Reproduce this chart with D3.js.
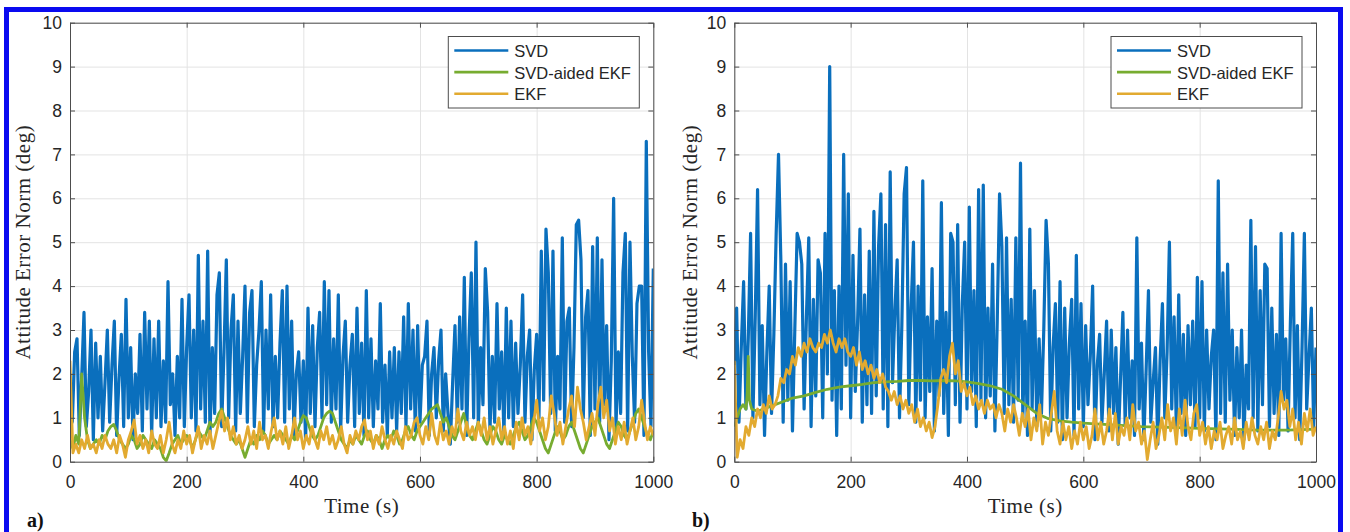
<!DOCTYPE html>
<html><head><meta charset="utf-8">
<script src="https://cdn.jsdelivr.net/npm/d3@7"></script>
<style>body{margin:0;background:#fff;} svg{display:block;}</style>
</head><body><svg id="chart" width="1350" height="532"></svg>
<script>
// ---------- data ----------
const xTicks = [0, 200, 400, 600, 800, 1000];
const yTicks = [0, 1, 2, 3, 4, 5, 6, 7, 8, 9, 10];
const seriesNames = ["SVD", "SVD-aided EKF", "EKF"];
const panelLabels = ["a)", "b)"];

// Panel a, SVD (every 4 s)
const svdA = [
2.0,0.9,2.5,2.8,0.6,1.9,3.4,0.8,1.6,3.0,
0.5,2.7,1.0,2.4,0.7,1.8,3.0,0.9,2.2,3.2,
0.6,1.9,2.9,0.8,3.7,1.0,2.6,0.5,2.0,1.1,
2.9,0.7,3.4,1.2,3.2,0.6,2.8,1.0,3.2,0.8,
2.3,0.9,4.1,1.3,2.0,0.6,2.4,1.0,3.7,0.8,
2.6,3.8,1.0,3.0,0.7,4.7,1.2,3.2,0.9,4.8,
0.6,2.6,1.1,3.8,4.3,0.8,2.5,4.6,1.0,3.0,
3.8,0.7,3.2,1.1,2.4,4.0,0.9,3.4,3.9,0.8,
2.2,3.0,4.1,0.7,3.0,1.2,3.8,0.8,2.4,1.0,
2.7,3.9,0.9,4.0,1.2,3.2,0.6,2.0,2.5,0.9,
2.3,0.5,3.5,1.1,3.1,0.8,2.6,3.4,1.0,4.1,
1.3,3.9,0.9,2.8,1.2,3.8,0.7,2.4,3.2,0.9,
2.2,2.9,0.8,3.5,1.1,2.7,0.6,3.9,1.0,2.8,
0.8,2.3,1.2,3.6,0.9,2.2,0.6,2.5,1.0,2.6,
0.7,2.5,1.1,3.3,0.8,3.6,1.2,3.0,0.7,3.1,
0.9,2.2,2.4,3.2,0.6,2.0,2.6,1.0,2.3,3.0,
0.7,2.0,1.1,0.4,1.8,3.1,0.9,3.3,1.2,4.2,
0.6,2.8,4.3,1.0,5.0,0.8,2.6,1.3,4.4,3.4,
0.7,2.4,0.9,3.6,1.2,2.5,0.6,3.5,1.0,3.2,
0.8,2.7,1.1,2.2,3.8,0.9,2.4,3.0,0.5,2.1,
2.9,1.0,4.8,1.4,5.3,4.3,1.1,4.8,0.7,2.4,
1.2,5.1,0.9,3.2,3.5,0.8,2.6,5.4,5.5,4.6,
1.0,3.3,3.9,0.6,4.9,1.2,5.1,0.9,4.6,1.3,
3.1,0.5,2.3,6.0,0.8,2.5,1.1,4.3,5.2,0.7,
5.0,2.4,0.9,3.6,4.0,4.0,0.6,7.3,2.5,0.8,
4.4];

// Panel a, SVD-aided EKF (every 5 s)
const aidedA = [
0.5,0.3,0.6,0.4,2.0,1.0,0.5,0.3,0.4,0.5,
0.4,0.6,0.5,0.7,0.8,0.85,0.7,0.5,0.4,0.3,
0.4,0.6,0.5,0.3,0.4,0.6,0.5,0.4,0.3,0.5,
0.4,0.3,0.1,0.02,0.2,0.4,0.5,0.6,0.4,0.5,
0.6,0.5,0.3,0.5,0.7,0.6,0.5,0.7,0.9,0.8,
0.9,1.1,1.2,1.0,0.8,0.6,0.5,0.4,0.5,0.3,
0.1,0.3,0.5,0.4,0.6,0.5,0.7,0.6,0.4,0.5,
0.6,0.5,0.7,0.6,0.5,0.4,0.6,0.5,0.7,0.9,
1.05,1.0,0.8,0.6,0.5,0.6,0.8,1.0,1.1,1.15,
1.1,0.9,0.7,0.5,0.4,0.3,0.5,0.4,0.6,0.5,
0.4,0.6,0.7,0.5,0.4,0.6,0.5,0.3,0.5,0.6,
0.5,0.7,0.6,0.4,0.5,0.7,0.8,0.6,0.5,0.7,
0.8,0.9,1.0,1.1,1.2,1.25,1.3,1.1,0.9,1.0,
0.8,0.6,0.5,0.7,0.9,1.1,0.8,0.6,0.5,0.7,
0.9,0.7,0.5,0.4,0.6,0.8,0.7,0.5,0.4,0.6,
0.5,0.4,0.6,0.8,0.9,0.7,0.5,0.6,0.8,1.0,
0.9,0.7,0.5,0.3,0.2,0.4,0.6,0.8,0.7,0.5,
0.6,0.8,0.9,0.7,0.5,0.3,0.2,0.4,0.6,0.8,
0.9,1.0,0.8,0.6,0.4,0.3,0.5,0.7,0.9,0.8,
0.6,0.5,0.7,0.9,1.1,1.2,1.0,0.8,0.6,0.5,
0.7];

// Panel a, EKF (every 5 s)
const ekfA = [
2.3,0.2,0.4,0.2,0.5,0.3,0.6,0.3,0.4,0.2,
0.5,0.3,0.6,0.4,0.3,0.5,0.2,0.6,0.4,0.1,
0.5,0.7,0.95,0.4,0.6,0.3,0.5,0.2,0.7,0.4,
0.3,0.6,0.2,0.5,0.9,0.4,0.2,0.5,0.3,0.7,
0.4,0.6,0.2,0.5,0.8,0.3,0.6,0.4,0.7,0.3,
0.6,0.9,1.15,0.7,1.0,0.5,0.8,0.4,0.6,0.3,
0.5,0.8,0.4,0.7,0.3,0.9,0.5,0.6,0.3,0.7,
1.0,0.5,0.7,0.4,0.8,0.3,0.6,1.0,0.5,0.7,
0.3,0.6,0.4,0.8,0.5,0.3,0.7,0.5,0.8,0.4,
0.6,0.3,0.5,0.8,0.4,0.2,0.6,0.4,0.7,0.5,
0.8,0.95,0.5,0.7,0.3,0.6,0.4,0.8,0.5,0.3,
0.6,0.4,0.7,0.5,0.3,0.8,0.5,0.6,0.9,1.0,
0.6,0.4,0.8,0.5,1.1,0.6,0.4,0.9,0.5,0.7,
0.4,0.8,0.6,1.2,0.7,0.5,0.9,0.6,0.8,0.5,
0.9,0.6,1.0,0.5,0.8,0.4,0.7,1.0,0.5,0.8,
0.4,0.7,0.3,0.9,0.5,1.0,0.6,0.8,0.4,0.9,
1.4,0.7,1.0,0.5,0.8,1.5,1.1,0.6,0.9,0.4,
0.8,1.2,1.5,0.8,1.7,1.2,0.9,0.5,0.8,1.1,
0.6,1.3,1.7,1.0,1.4,0.7,1.0,0.4,0.8,0.5,
0.9,0.4,0.7,1.0,0.5,0.8,1.4,0.9,0.5,0.8,
0.6];

// Panel b, SVD (every 4 s)
const svdB = [
2.2,3.5,0.9,2.6,4.1,1.2,2.8,5.2,1.0,3.3,
6.2,1.3,3.1,0.6,2.5,4.0,1.1,2.9,5.2,7.0,
4.6,0.9,4.5,1.4,4.1,0.7,3.0,5.2,5.0,4.5,
1.2,3.3,5.1,0.8,3.7,1.5,4.6,4.3,1.0,5.2,
2.0,9.0,1.4,3.9,0.6,4.0,1.2,7.0,2.2,6.1,
1.0,4.7,1.6,3.2,5.3,0.9,3.8,1.3,4.8,1.1,
5.7,1.5,4.9,6.1,1.2,5.4,0.8,6.6,1.8,3.4,
4.6,1.0,3.1,6.1,6.7,1.3,3.5,5.0,0.9,4.0,
1.4,6.4,1.0,3.3,1.6,4.4,0.7,3.2,1.5,5.9,
1.1,3.4,0.6,5.2,5.0,1.3,5.4,0.9,3.6,5.0,
1.2,5.8,1.6,3.9,0.8,6.2,1.4,6.3,1.0,3.5,
1.5,4.5,0.7,3.2,6.1,4.9,1.1,5.1,1.3,3.7,
0.9,5.1,1.4,6.8,1.0,3.2,0.6,5.3,1.2,3.9,
0.8,2.8,1.1,3.0,5.5,4.5,0.7,2.6,3.6,0.9,
4.1,0.5,3.5,1.0,2.7,3.7,0.6,4.7,1.2,3.6,
0.8,3.1,1.3,2.4,4.0,0.5,2.2,2.9,0.9,2.0,
3.2,0.7,3.0,1.1,2.6,0.4,1.9,3.4,0.8,3.0,
1.0,2.3,0.6,5.1,1.2,2.7,0.5,2.1,3.9,0.9,
1.8,2.6,0.4,2.3,3.6,1.0,2.5,5.0,1.2,3.3,
0.7,3.8,1.1,2.9,0.6,3.1,1.3,3.2,0.8,4.2,
1.0,4.1,0.7,3.0,1.2,2.4,3.0,0.5,6.4,1.1,
4.3,0.9,4.5,1.4,3.0,0.6,2.6,1.0,3.0,0.5,
2.2,1.2,5.5,1.0,4.9,0.7,3.9,1.3,4.5,4.4,
0.8,3.5,1.1,2.9,0.6,5.2,1.4,2.8,0.7,3.2,
5.2,1.0,3.1,0.5,2.6,5.2,1.2,2.4,3.5,0.8,
2.6];

// Panel b, EKF (every 5 s)
const ekfB = [
2.3,0.1,0.5,0.3,0.8,0.6,1.0,0.8,1.2,1.0,
1.3,1.1,1.5,1.2,1.3,1.5,1.9,1.8,2.1,2.0,
2.4,2.2,2.6,2.4,2.7,2.5,2.8,2.6,2.5,2.7,
2.6,2.9,2.7,3.0,2.7,2.5,2.8,2.6,2.8,2.5,
2.4,2.6,2.2,2.5,2.1,2.3,2.0,2.2,1.9,2.1,
1.8,2.0,1.7,1.6,1.4,1.6,1.3,1.5,1.2,1.4,
1.1,1.3,0.9,1.2,0.8,1.0,0.7,0.9,0.55,0.8,
1.3,1.9,2.1,1.8,2.4,2.7,2.0,2.3,1.6,1.8,
1.5,1.7,1.3,1.5,1.2,1.4,1.1,1.4,1.2,1.3,
1.0,1.3,1.1,0.7,1.2,0.9,1.3,1.0,0.6,1.1,
0.8,1.2,0.5,1.0,0.7,1.3,0.4,0.9,0.6,1.1,
1.6,0.7,0.4,0.9,0.5,0.8,0.3,0.7,0.4,0.9,
0.5,0.8,0.3,0.6,1.2,0.5,0.9,0.4,0.7,1.2,
0.5,1.1,0.4,0.8,0.6,1.0,0.5,1.3,0.7,0.9,
0.4,0.7,0.05,0.5,0.9,0.3,0.6,1.0,0.5,1.3,
0.7,1.0,0.4,1.2,0.6,1.4,0.8,0.5,1.1,1.3,
0.6,0.9,0.4,0.8,0.3,0.7,0.5,0.9,0.3,0.6,
0.8,0.4,1.0,0.5,0.7,0.3,0.9,0.5,1.0,0.6,
0.4,0.8,0.5,0.9,0.3,0.7,0.5,1.0,1.6,1.2,
1.4,0.8,1.2,0.5,0.9,0.4,1.1,0.7,1.2,0.6,
0.8];

// Panel b, SVD-aided EKF (irregular times)
const aidedB_t = [0,5,10,15,20,22,24,26,28,30,40,50,60,70,80,90,100,120,140,160,180,200,220,240,260,280,300,320,340,360,380,400,420,440,460,480,500,520,540,560,580,600,650,700,750,800,850,900,950,1000];
const aidedB_v = [0.8,1.0,1.2,1.3,1.2,1.5,2.4,1.4,1.3,1.2,1.15,1.2,1.25,1.3,1.35,1.4,1.45,1.5,1.58,1.65,1.7,1.73,1.76,1.8,1.82,1.83,1.85,1.85,1.84,1.85,1.84,1.82,1.78,1.73,1.65,1.5,1.3,1.1,0.98,0.93,0.9,0.88,0.84,0.8,0.78,0.76,0.74,0.72,0.72,0.74];

const colors = ["#0A6FBD", "#77AC30", "#E2AA30"];

// ---------- helpers ----------
function stepSeries(vals, step) { return vals.map((v, i) => [i * step, v]); }
function pairSeries(ts, vs) { const n = Math.min(ts.length, vs.length); const out = []; for (let i = 0; i < n; i++) out.push([ts[i], vs[i]]); return out; }

const panels = [
  { left: 70, right: 653.3, top: 22.7, bottom: 461.7, ytitleX: 29.5, labelX: 27,
    series: [stepSeries(svdA, 4), stepSeries(aidedA, 5), stepSeries(ekfA, 5)] },
  { left: 734.3, right: 1316, top: 22.7, bottom: 461.7, ytitleX: 697, labelX: 692,
    series: [stepSeries(svdB, 4), pairSeries(aidedB_t, aidedB_v), stepSeries(ekfB, 5)] }
];
const strokeW = [3.2, 2.8, 2.8];

const svg = d3.select("#chart");
svg.append("rect").attr("width", 1350).attr("height", 532).attr("fill", "#fff");

const sansFont = "'Liberation Sans', Arial, Helvetica, sans-serif";
const serifFont = "'Liberation Serif', 'Times New Roman', serif";
const axisColor = "#4d4d4d";

panels.forEach((p, pi) => {
  const x = d3.scaleLinear().domain([0, 1000]).range([p.left, p.right]);
  const y = d3.scaleLinear().domain([0, 10]).range([p.bottom, p.top]);
  const g = svg.append("g");
  const clipId = "clip" + pi;
  svg.append("clipPath").attr("id", clipId).append("rect")
    .attr("x", p.left).attr("y", p.top).attr("width", p.right - p.left).attr("height", p.bottom - p.top);

  // grid
  g.append("g").attr("transform", `translate(0,${p.bottom})`)
    .call(d3.axisBottom(x).tickValues(xTicks).tickSize(-(p.bottom - p.top)).tickFormat(""))
    .call(s => { s.select(".domain").remove(); s.selectAll("line").attr("stroke", "#e3e3e3").attr("stroke-width", 1); });
  g.append("g").attr("transform", `translate(${p.left},0)`)
    .call(d3.axisLeft(y).tickValues(yTicks).tickSize(-(p.right - p.left)).tickFormat(""))
    .call(s => { s.select(".domain").remove(); s.selectAll("line").attr("stroke", "#e3e3e3").attr("stroke-width", 1); });

  // lines
  const line = d3.line().x(d => x(d[0])).y(d => y(d[1]));
  const lg = g.append("g").attr("clip-path", `url(#${clipId})`);
  p.series.forEach((s, si) => {
    lg.append("path").datum(s).attr("d", line).attr("fill", "none")
      .attr("stroke", colors[si]).attr("stroke-width", strokeW[si]).attr("stroke-linejoin", "round");
  });

  // axes: inside ticks on all 4 sides
  const tl = 5;
  const styleAxis = s => { s.select(".domain").attr("stroke", axisColor); s.selectAll(".tick line").attr("stroke", axisColor); s.selectAll("text").attr("fill", "#262626").style("font-family", sansFont).style("font-size", "17.5px"); };
  g.append("g").attr("transform", `translate(0,${p.bottom})`)
    .call(d3.axisBottom(x).tickValues(xTicks).tickSizeInner(-tl).tickSizeOuter(0).tickPadding(14).tickFormat(d3.format("d")))
    .call(styleAxis);
  g.append("g").attr("transform", `translate(0,${p.top})`)
    .call(d3.axisTop(x).tickValues(xTicks).tickSizeInner(-tl).tickSizeOuter(0).tickFormat(""))
    .call(styleAxis);
  g.append("g").attr("transform", `translate(${p.left},0)`)
    .call(d3.axisLeft(y).tickValues(yTicks).tickSizeInner(-tl).tickSizeOuter(0).tickPadding(8).tickFormat(d3.format("d")))
    .call(styleAxis);
  g.append("g").attr("transform", `translate(${p.right},0)`)
    .call(d3.axisRight(y).tickValues(yTicks).tickSizeInner(-tl).tickSizeOuter(0).tickFormat(""))
    .call(styleAxis);

  // axis titles
  g.append("text").attr("x", (p.left + p.right) / 2).attr("y", 512.5).attr("text-anchor", "middle")
    .style("font-family", serifFont).style("font-size", "21px").style("letter-spacing", "0.5px").attr("fill", "#262626")
    .text("Time (s)");
  g.append("text").attr("transform", `translate(${p.ytitleX},${(p.top + p.bottom) / 2}) rotate(-90)`).attr("text-anchor", "middle")
    .style("font-family", serifFont).style("font-size", "21px").style("letter-spacing", "0.5px").attr("fill", "#262626")
    .text("Attitude Error Norm (deg)");
  g.append("text").attr("x", p.labelX).attr("y", 526.5)
    .style("font-family", serifFont).style("font-size", "20px").style("font-weight", "bold").attr("fill", "#111")
    .text(panelLabels[pi]);

  // legend
  const lw = 191, lh = 71.5;
  const lx = p.right - 14 - lw, ly = 36.5;
  const leg = g.append("g").attr("transform", `translate(${lx},${ly})`);
  leg.append("rect").attr("width", lw).attr("height", lh).attr("fill", "#fff").attr("stroke", axisColor).attr("stroke-width", 1);
  seriesNames.forEach((name, i) => {
    const yy = 14 + i * 21.6;
    leg.append("line").attr("x1", 6).attr("x2", 60).attr("y1", yy).attr("y2", yy).attr("stroke", colors[i]).attr("stroke-width", 2.6);
    leg.append("text").attr("x", 66).attr("y", yy + 6.5).style("font-family", sansFont).style("font-size", "16.5px").attr("fill", "#262626").text(name);
  });
});

// blue outer frame
svg.append("rect").attr("x", 6.5).attr("y", 9.5).attr("width", 1334).attr("height", 600)
  .attr("fill", "none").attr("stroke", "#0a0af0").attr("stroke-width", 5);
</script></body></html>
